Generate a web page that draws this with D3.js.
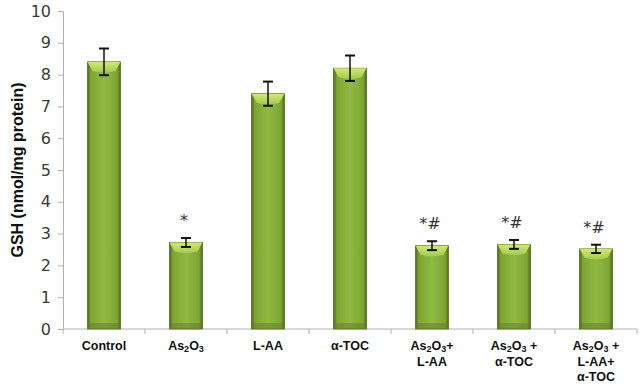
<!DOCTYPE html>
<html>
<head>
<meta charset="utf-8">
<script src="https://cdn.jsdelivr.net/npm/d3@7"></script>
<style>
  body { margin: 0; background: #fff; }
  svg { display: block; }
</style>
</head>
<body>
<div id="chart"></div>
<script>
// groups, with subscripts written as _{n}
const groups = ["Control", "As2O3", "L-AA", "a-TOC", "As2O3+L-AA", "As2O3+a-TOC", "As2O3+L-AA+a-TOC"];
const groupLabels = [
    ["Control"],
    ["As_{2}O_{3}"],
    ["L-AA"],
    ["α-TOC"],
    ["As_{2}O_{3}+", "L-AA"],
    ["As_{2}O_{3} +", "α-TOC"],
    ["As_{2}O_{3} +", "L-AA+", "α-TOC"]
];
const gsh = [8.4, 2.72, 7.4, 8.2, 2.62, 2.66, 2.52];
const gshErr = [0.42, 0.14, 0.38, 0.4, 0.14, 0.14, 0.13];
const signif = ["", "*", "", "", "*#", "*#", "*#"];
const yTicks = [0, 1, 2, 3, 4, 5, 6, 7, 8, 9, 10];

const W = 641, H = 387;
const margin = { top: 11, right: 4, bottom: 58, left: 63 };
const width = W - margin.left - margin.right;
const height = H - margin.top - margin.bottom;

const svg = d3.select("#chart").append("svg")
    .attr("width", W)
    .attr("height", H);

const defs = svg.append("defs");
const grad = defs.append("linearGradient").attr("id", "barGrad")
    .attr("x1", "0%").attr("x2", "100%").attr("y1", "0%").attr("y2", "0%");
grad.append("stop").attr("offset", "0%").attr("stop-color", "#4e6b1a");
grad.append("stop").attr("offset", "10%").attr("stop-color", "#7fa634");
grad.append("stop").attr("offset", "50%").attr("stop-color", "#8fb943");
grad.append("stop").attr("offset", "90%").attr("stop-color", "#7fa634");
grad.append("stop").attr("offset", "100%").attr("stop-color", "#4e6b1a");

const topGrad = defs.append("linearGradient").attr("id", "topGrad")
    .attr("x1", "0%").attr("x2", "0%").attr("y1", "0%").attr("y2", "100%");
topGrad.append("stop").attr("offset", "0%").attr("stop-color", "#d4ec7a");
topGrad.append("stop").attr("offset", "100%").attr("stop-color", "#a6cc4e");

const g = svg.append("g")
    .attr("transform", `translate(${margin.left},${margin.top})`);

const x = d3.scaleBand()
    .domain(groups)
    .range([0, width])
    .paddingInner(0.6)
    .paddingOuter(0.3);

const y = d3.scaleLinear()
    .domain([0, 10])
    .range([height, 0]);

// y axis
const yAxis = g.append("g")
    .call(d3.axisLeft(y).tickValues(yTicks).tickSize(5).tickPadding(7));
yAxis.select(".domain").attr("stroke", "#b0b0b0");
yAxis.selectAll(".tick line").attr("stroke", "#b0b0b0");
yAxis.selectAll(".tick text")
    .attr("fill", "#3a3a3a")
    .style("font-family", "'DejaVu Sans', Verdana, sans-serif")
    .style("font-size", "16px");

// x axis line with ticks between categories
g.append("line")
    .attr("x1", 0).attr("x2", width)
    .attr("y1", height).attr("y2", height)
    .attr("stroke", "#b0b0b0");
const step = x.step();
const bounds = d3.range(groups.length + 1).map(i => x(groups[0]) - x.paddingOuter() * step + i * step);
g.selectAll(".xtick")
    .data(bounds)
    .enter().append("line")
    .attr("class", "xtick")
    .attr("x1", d => d).attr("x2", d => d)
    .attr("y1", height).attr("y2", height + 5)
    .attr("stroke", "#b0b0b0");

// bars
const bars = g.selectAll(".bar")
    .data(groups)
    .enter().append("g")
    .attr("class", "bar");

bars.append("rect")
    .attr("x", d => x(d))
    .attr("y", (d, i) => y(gsh[i]))
    .attr("width", x.bandwidth())
    .attr("height", (d, i) => height - y(gsh[i]))
    .attr("fill", "url(#barGrad)")
    .attr("stroke", "#4e6b1a")
    .attr("stroke-width", 0.8);

// bevelled top highlight
bars.append("path")
    .attr("d", (d, i) => {
        const x0 = x(d), x1 = x0 + x.bandwidth(), t = y(gsh[i]);
        const e = 5, h = 9;
        return `M${x0},${t} L${x1},${t} L${x1 - e},${t + h} Q${(x0 + x1) / 2},${t + h + 3} ${x0 + e},${t + h} Z`;
    })
    .attr("fill", "url(#topGrad)")
    .attr("opacity", 0.95);

// bottom shade
bars.append("rect")
    .attr("x", d => x(d) + 1)
    .attr("y", height - 6)
    .attr("width", x.bandwidth() - 2)
    .attr("height", 6)
    .attr("fill", "#5f8025")
    .attr("opacity", 0.5);

// error bars
const cap = 5;
bars.each(function (d, i) {
    const cx = x(d) + x.bandwidth() / 2;
    const sel = d3.select(this);
    const hi = y(gsh[i] + gshErr[i]), lo = y(gsh[i] - gshErr[i]);
    sel.append("line").attr("x1", cx).attr("x2", cx).attr("y1", hi).attr("y2", lo)
        .attr("stroke", "#111").attr("stroke-width", 1.5);
    sel.append("line").attr("x1", cx - cap).attr("x2", cx + cap).attr("y1", hi).attr("y2", hi)
        .attr("stroke", "#111").attr("stroke-width", 2);
    sel.append("line").attr("x1", cx - cap).attr("x2", cx + cap).attr("y1", lo).attr("y2", lo)
        .attr("stroke", "#111").attr("stroke-width", 2);
    if (signif[i]) {
        sel.append("text")
            .attr("x", cx - 2)
            .attr("y", hi - 12)
            .attr("text-anchor", "middle")
            .attr("fill", "#333")
            .style("font-family", "'DejaVu Sans', Verdana, sans-serif")
            .style("font-size", "16px")
            .text(signif[i]);
    }
});

// x labels with subscripts
function addRich(textSel, str) {
    const parts = str.split(/(_\{[^}]*\})/).filter(p => p);
    parts.forEach(p => {
        if (p.startsWith("_{")) {
            textSel.append("tspan")
                .attr("baseline-shift", "-2")
                .style("font-size", "9px")
                .text(p.slice(2, -1));
        } else {
            textSel.append("tspan").text(p);
        }
    });
}

groupLabels.forEach((lines, i) => {
    const cx = x(groups[i]) + x.bandwidth() / 2;
    lines.forEach((ln, j) => {
        const t = g.append("text")
            .attr("x", cx)
            .attr("y", height + 21 + j * 15.5)
            .attr("text-anchor", "middle")
            .attr("fill", "#111")
            .style("font-family", "'Liberation Sans', Arial, sans-serif")
            .style("font-weight", "bold")
            .style("font-size", "12.5px");
        addRich(t, ln);
    });
});

// y label
svg.append("text")
    .attr("transform", `translate(23,${margin.top + height / 2}) rotate(-90)`)
    .attr("text-anchor", "middle")
    .attr("fill", "#111")
    .style("font-family", "'Liberation Sans', Arial, sans-serif")
    .style("font-weight", "bold")
    .style("font-size", "16px")
    .text("GSH (nmol/mg protein)");
</script>
</body>
</html>
